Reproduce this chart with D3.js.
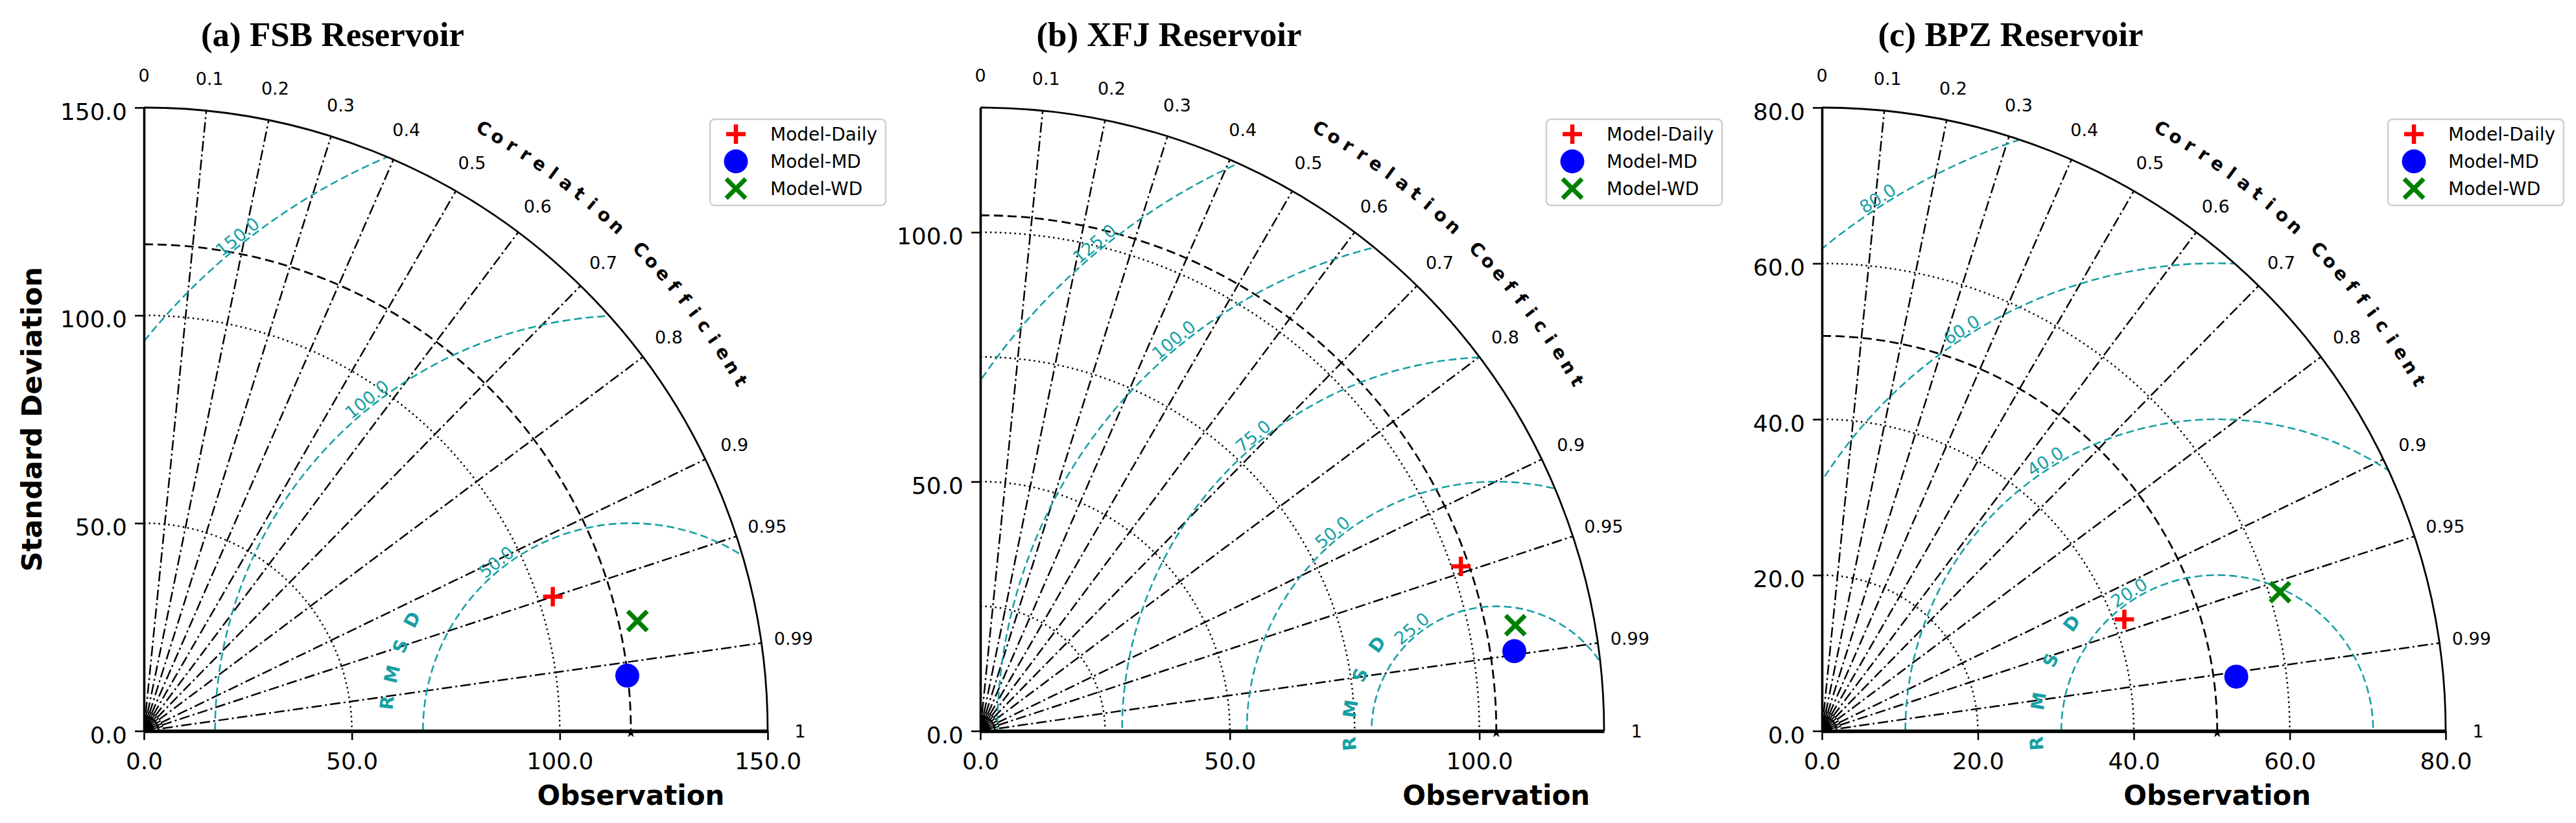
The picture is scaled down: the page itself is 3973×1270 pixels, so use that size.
<!DOCTYPE html>
<html><head><meta charset="utf-8">
<script src="https://cdn.jsdelivr.net/npm/d3@7"></script>
<style>body{margin:0;background:#fff} svg{display:block}</style>
</head><body>
<svg id="chart" width="3973" height="1270"></svg>
<script>
// ---------------- data ----------------
const panelTitles = ["(a) FSB Reservoir", "(b) XFJ Reservoir", "(c) BPZ Reservoir"];
const stdMax = [150, 125, 80];
const refStd = [117.1, 103.4, 50.7];
const axisTicks = [[0, 50, 100, 150], [0, 50, 100], [0, 20, 40, 60, 80]];
const stdGrid = [[50, 100], [25, 50, 75, 100], [20, 40, 60]];
const rmsLevels = [[50, 100, 150], [25, 50, 75, 100, 125], [20, 40, 60, 80]];
const corrTicks = [0, 0.1, 0.2, 0.3, 0.4, 0.5, 0.6, 0.7, 0.8, 0.9, 0.95, 0.99, 1];
const corrLines = [0.1, 0.2, 0.3, 0.4, 0.5, 0.6, 0.7, 0.8, 0.9, 0.95, 0.99];
const minorCorr = [0.05, 0.15, 0.25, 0.35, 0.45, 0.55, 0.65, 0.75, 0.85, 0.925, 0.97];
const seriesNames = ["Model-Daily", "Model-MD", "Model-WD"];
const dailyStd = [103.5, 101.8, 41.35];
const dailyCorr = [0.95, 0.946, 0.938];
const mdStd = [117.0, 108.2, 53.6];
const mdCorr = [0.9935, 0.989, 0.9915];
const wdStd = [121.6, 109.3, 61.4];
const wdCorr = [0.976, 0.981, 0.957];

// ---------------- layout ----------------
const W = 3973, H = 1270;
const originXs = [222, 1512, 2810];
const originY = 1128;
const RADIUS = 962;
const TEAL = "#17a0a4";
const rmsLabelAngle = [128.5, 129.5, 122.5];
const rmsTitleR = [59, 29.5, 23.2];
const rmsTitleAngles = [[173.4, 153], [185, 144], [184, 143.5]];
const seriesColors = ["#ff0000", "#0000ff", "#008000"];
const seriesShapes = ["plus", "circle", "cross"];

const svg = d3.select("#chart");
svg.append("rect").attr("width", W).attr("height", H).attr("fill", "#fff");

function drawMarker(sel, shape, color, x, y) {
  if (shape === "circle") {
    sel.append("circle").attr("cx", x).attr("cy", y).attr("r", 18.5).attr("fill", color);
  } else if (shape === "plus") {
    const a = 15;
    sel.append("path").attr("d", `M${x - a},${y}H${x + a}M${x},${y - a}V${y + a}`)
      .attr("stroke", color).attr("stroke-width", 6.5).attr("fill", "none");
  } else {
    const a = 15;
    sel.append("path").attr("d", `M${x - a},${y - a}L${x + a},${y + a}M${x - a},${y + a}L${x + a},${y - a}`)
      .attr("stroke", color).attr("stroke-width", 7).attr("fill", "none");
  }
}

panelTitles.forEach((title, i) => {
  const ox = originXs[i], oy = originY;
  const max = stdMax[i];
  const ref = refStd[i];
  const r = d3.scaleLinear().domain([0, max]).range([0, RADIUS]);
  const g = svg.append("g").attr("transform", `translate(${ox},${oy})`);
  const pt = (s, c) => [r(s * c), -r(s * Math.sqrt(Math.max(0, 1 - c * c)))];

  // clip to quarter disk
  const clipId = "clip" + i;
  g.append("clipPath").attr("id", clipId).append("path")
    .attr("d", d3.arc()({innerRadius: 0, outerRadius: RADIUS + 1, startAngle: 0, endAngle: Math.PI / 2}));

  const quarterArc = (rr) => {
    const p = d3.path();
    p.arc(0, 0, rr, -Math.PI / 2, 0, false);
    return p.toString();
  };

  // std grid (dotted)
  g.selectAll(".sgrid").data(stdGrid[i]).join("path")
    .attr("d", d => quarterArc(r(d)))
    .attr("fill", "none").attr("stroke", "#000").attr("stroke-width", 2.5)
    .attr("stroke-dasharray", "2.5,5");

  // correlation lines
  g.selectAll(".cline").data(corrLines).join("path")
    .attr("d", c => d3.line()([[0, 0], pt(max, c)]))
    .attr("fill", "none").attr("stroke", "#000").attr("stroke-width", 2.5)
    .attr("stroke-dasharray", "16,5,3,5");

  // minor short lines near origin
  g.selectAll(".mline").data(minorCorr).join("path")
    .attr("d", c => {
      const a = Math.acos(c);
      return d3.line()([[0, 0], [30 * Math.cos(a), -30 * Math.sin(a)]]);
    })
    .attr("stroke", "#000").attr("stroke-width", 2.2);
  g.append("path").attr("d", d3.arc()({innerRadius: 0, outerRadius: 10, startAngle: 0, endAngle: Math.PI / 2}))
    .attr("fill", "#000");

  // reference std arc (dashed)
  g.append("path").attr("d", quarterArc(r(ref)))
    .attr("fill", "none").attr("stroke", "#000").attr("stroke-width", 2.8)
    .attr("stroke-dasharray", "14,7");

  // RMSD contours
  const cg = g.append("g").attr("clip-path", `url(#${clipId})`);
  cg.selectAll(".rms").data(rmsLevels[i]).join("path")
    .attr("d", lv => { const p = d3.path(); p.arc(r(ref), 0, r(lv), 0, 2 * Math.PI); return p.toString(); })
    .attr("fill", "none").attr("stroke", TEAL).attr("stroke-width", 2.6)
    .attr("stroke-dasharray", "12,6");

  // RMSD labels
  const phi = rmsLabelAngle[i] * Math.PI / 180;
  g.selectAll(".rmslab").data(rmsLevels[i]).join("text")
    .attr("transform", lv => {
      const x = r(ref + lv * Math.cos(phi)), y = -r(lv * Math.sin(phi));
      return `translate(${x},${y}) rotate(${90 - rmsLabelAngle[i]})`;
    })
    .attr("dy", -3)
    .attr("text-anchor", "middle")
    .attr("font-family", "DejaVu Sans").attr("font-size", 27).attr("fill", TEAL)
    .text(d3.format(".1f"));

  // RMSD title letters
  const [a0, a1] = rmsTitleAngles[i];
  "RMSD".split("").forEach((ch, k) => {
    const ang = a0 + (a1 - a0) * k / 3;
    const rad = ang * Math.PI / 180;
    const x = r(ref + rmsTitleR[i] * Math.cos(rad)), y = -r(rmsTitleR[i] * Math.sin(rad));
    g.append("text").attr("transform", `translate(${x},${y}) rotate(${90 - ang})`)
      .attr("text-anchor", "middle").attr("dominant-baseline", "central")
      .attr("font-family", "DejaVu Sans").attr("font-weight", "bold").attr("font-size", 28)
      .attr("fill", TEAL).text(ch);
  });

  // outer arc
  g.append("path").attr("d", quarterArc(RADIUS))
    .attr("fill", "none").attr("stroke", "#000").attr("stroke-width", 2.8);

  // axes
  const xs = d3.scaleLinear().domain([0, max]).range([0, RADIUS]);
  const ys = d3.scaleLinear().domain([0, max]).range([0, -RADIUS]);
  const xa = g.append("g").call(d3.axisBottom(xs).tickValues(axisTicks[i])
    .tickFormat(d3.format(".1f")).tickSize(14).tickSizeOuter(0).tickPadding(19));
  const ya = g.append("g").call(d3.axisLeft(ys).tickValues(axisTicks[i])
    .tickFormat(d3.format(".1f")).tickSize(14).tickSizeOuter(0).tickPadding(12));
  [xa, ya].forEach(a => {
    a.attr("font-family", "DejaVu Sans").attr("font-size", 36);
    a.selectAll(".tick line").attr("stroke", "#000").attr("stroke-width", 2.6);
    a.selectAll(".tick text").attr("fill", "#000");
  });
  xa.select(".domain").attr("stroke", "#000").attr("stroke-width", 5.5);
  ya.select(".domain").attr("stroke", "#000").attr("stroke-width", 3.6);
  ya.selectAll(".tick text").attr("dy", "0.5em");

  // reference marker on axis
  g.append("path").attr("d", d3.symbol(d3.symbolStar).size(70)())
    .attr("transform", `translate(${r(ref)},3)`).attr("fill", "#000");

  // correlation tick labels
  g.selectAll(".clab").data(corrTicks).join("text")
    .attr("x", c => 1012 * c)
    .attr("y", c => -1012 * Math.sqrt(1 - c * c))
    .attr("text-anchor", "middle").attr("dominant-baseline", "central")
    .attr("font-family", "DejaVu Sans").attr("font-size", 27).attr("fill", "#000")
    .text(c => String(c));

  // "Correlation Coefficient" along arc
  const ctitle = "Correlation Coefficient";
  const cStart = 60.6, cStep = (60.6 - 30.4) / (ctitle.length - 1);
  ctitle.split("").forEach((ch, k) => {
    if (ch === " ") return;
    const ang = cStart - k * cStep;
    const rad = ang * Math.PI / 180;
    g.append("text")
      .attr("transform", `translate(${1067 * Math.cos(rad)},${-1067 * Math.sin(rad)}) rotate(${90 - ang})`)
      .attr("text-anchor", "middle").attr("dominant-baseline", "central")
      .attr("font-family", "DejaVu Sans").attr("font-weight", "bold").attr("font-size", 28)
      .attr("fill", "#000").text(ch);
  });

  // data markers
  const stds = [dailyStd[i], mdStd[i], wdStd[i]];
  const cors = [dailyCorr[i], mdCorr[i], wdCorr[i]];
  seriesNames.forEach((nm, k) => {
    const [x, y] = pt(stds[k], cors[k]);
    drawMarker(g, seriesShapes[k], seriesColors[k], x, y);
  });

  // x label
  g.append("text").attr("x", r(ref)).attr("y", 1242 - oy)
    .attr("text-anchor", "middle").attr("font-family", "DejaVu Sans").attr("font-weight", "bold")
    .attr("font-size", 42).attr("fill", "#000").text("Observation");

  // y label (first panel only)
  if (i === 0) {
    svg.append("text").attr("transform", `translate(64,${oy - RADIUS / 2}) rotate(-90)`)
      .attr("text-anchor", "middle").attr("font-family", "DejaVu Sans").attr("font-weight", "bold")
      .attr("font-size", 43).attr("fill", "#000").text("Standard Deviation");
  }

  // title
  svg.append("text").attr("x", ox + 291).attr("y", 71)
    .attr("text-anchor", "middle").attr("font-family", "Liberation Serif").attr("font-weight", "bold")
    .attr("font-size", 53).attr("fill", "#000").text(title);

  // legend
  const lg = svg.append("g").attr("transform", `translate(${ox + 873},184)`);
  lg.append("rect").attr("width", 271).attr("height", 133).attr("rx", 7)
    .attr("fill", "#fff").attr("stroke", "#cfcfcf").attr("stroke-width", 2.5);
  seriesNames.forEach((nm, k) => {
    const yy = 23 + k * 42;
    drawMarker(lg, seriesShapes[k], seriesColors[k], 40, yy);
    lg.append("text").attr("x", 93).attr("y", yy).attr("dominant-baseline", "central")
      .attr("font-family", "DejaVu Sans").attr("font-size", 28).attr("fill", "#000").text(nm);
  });
});
</script>
</body></html>
